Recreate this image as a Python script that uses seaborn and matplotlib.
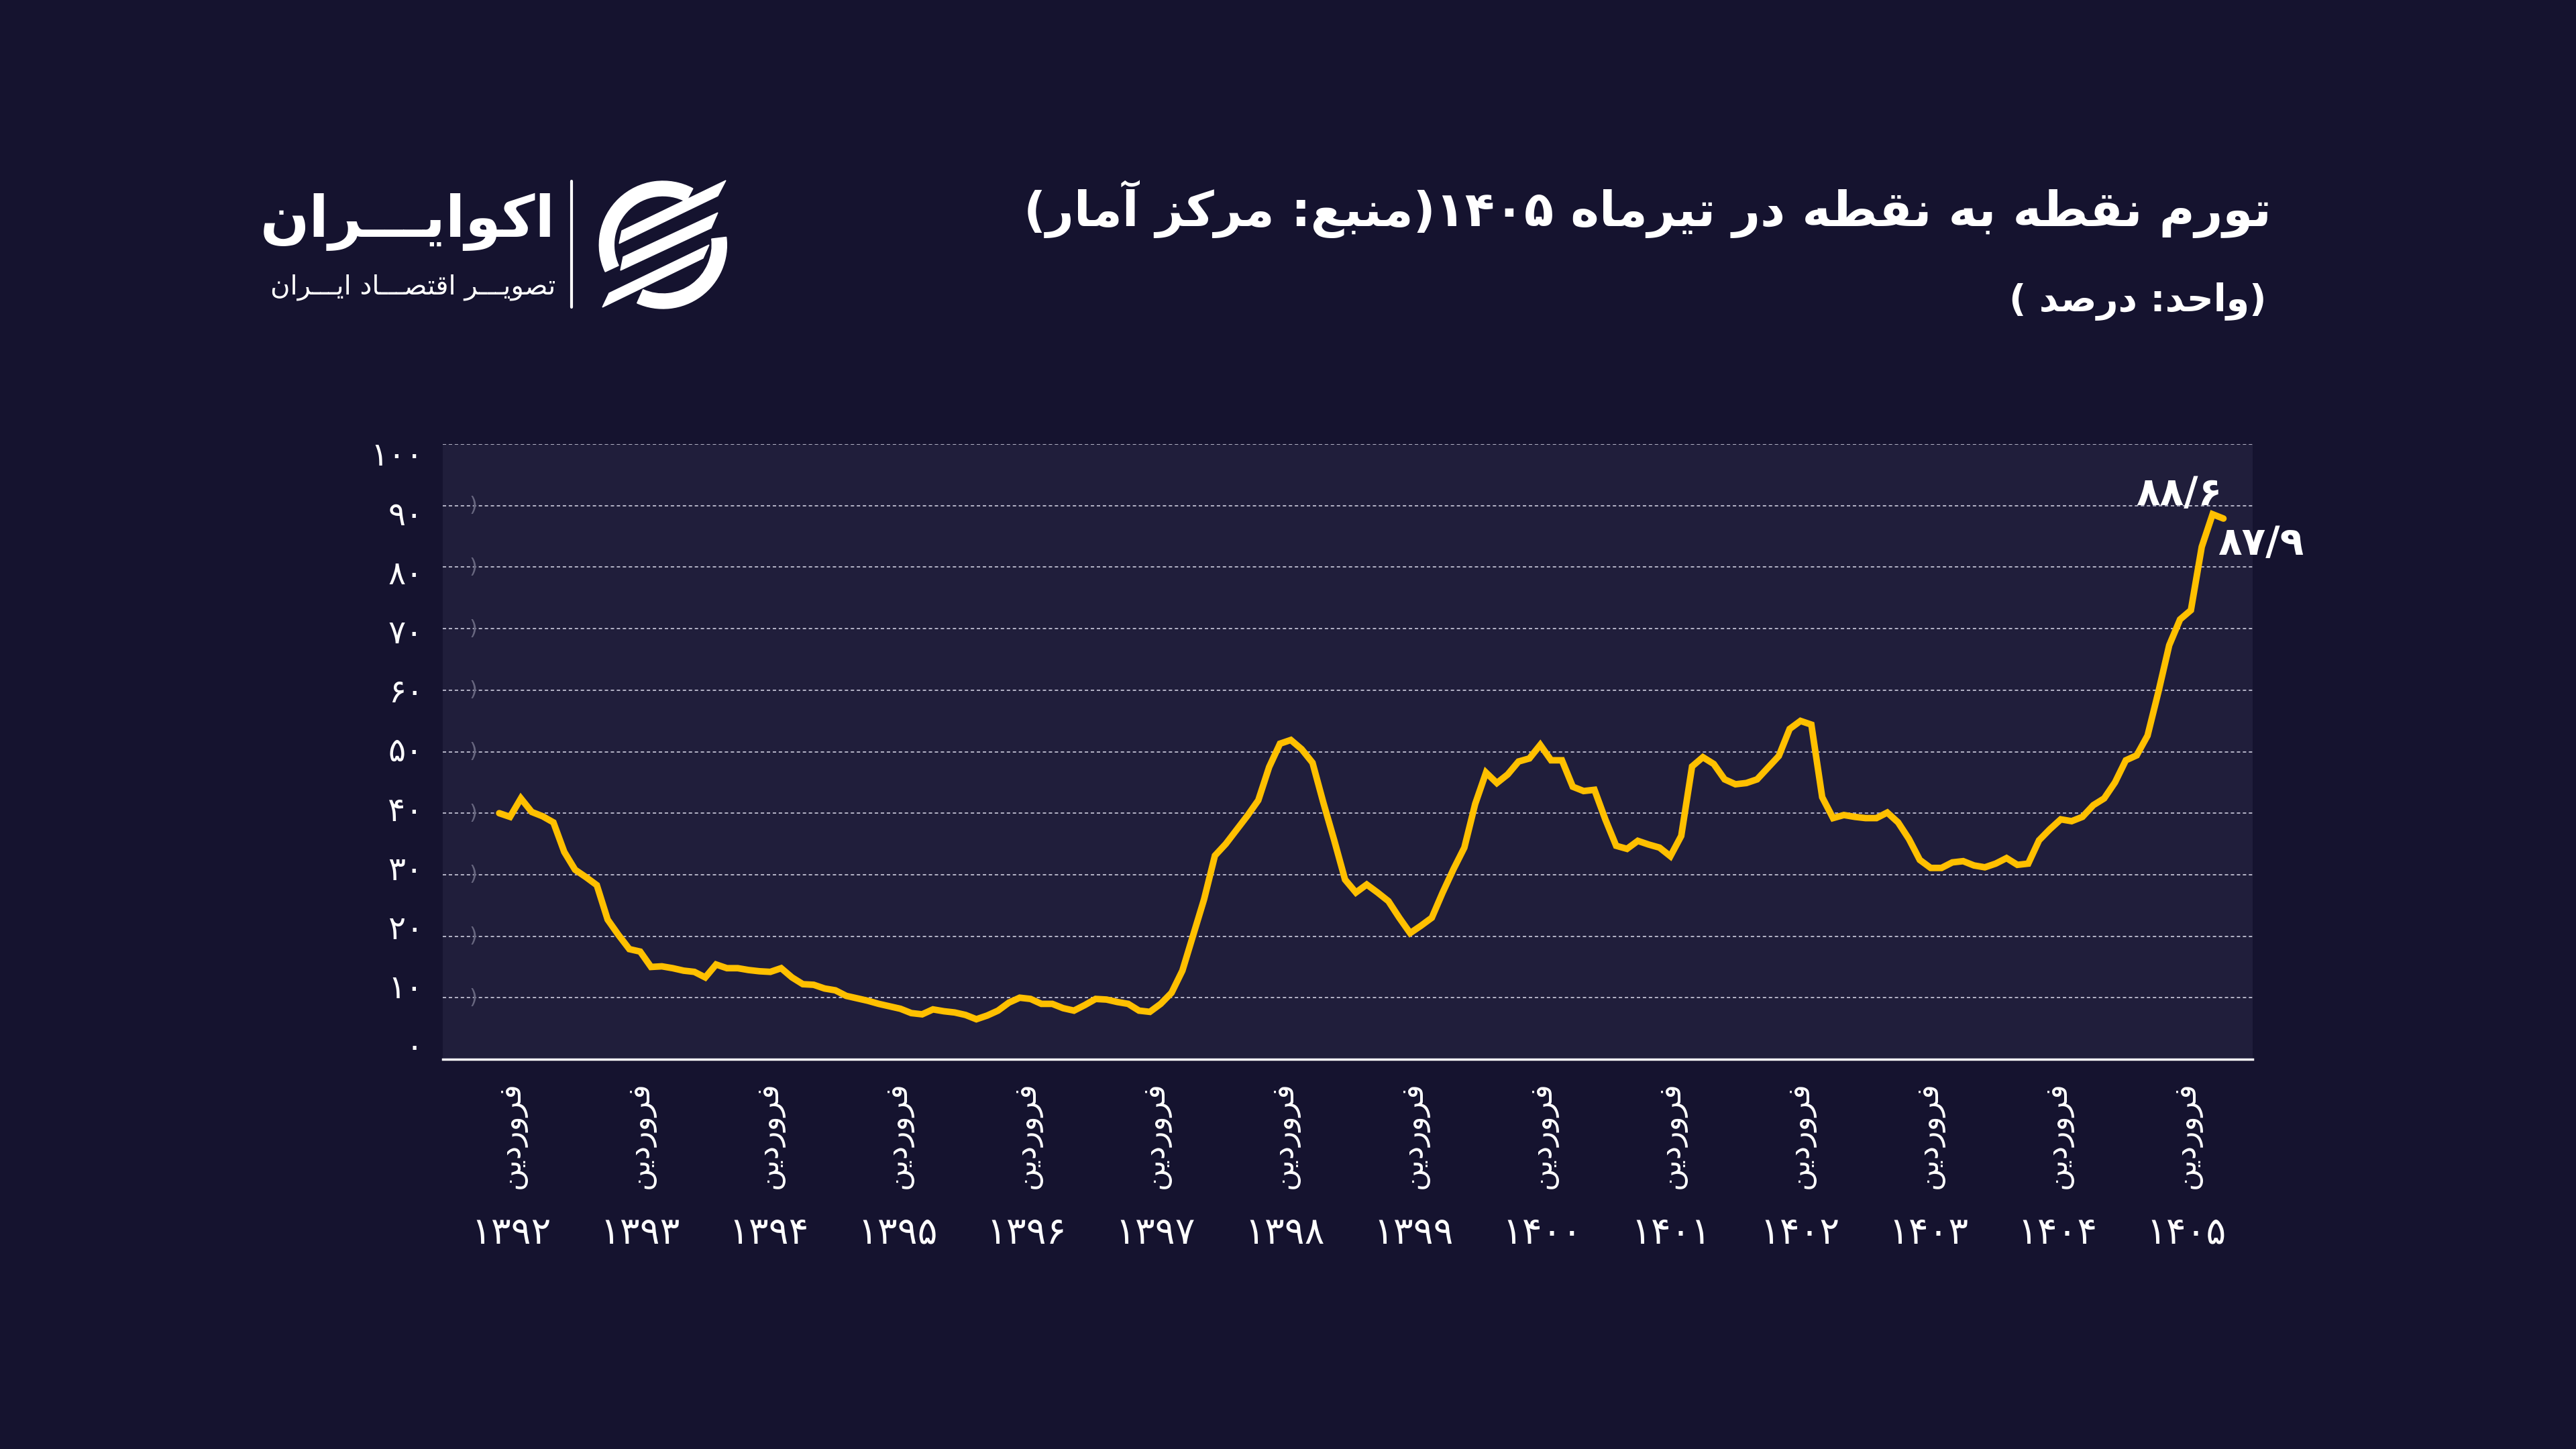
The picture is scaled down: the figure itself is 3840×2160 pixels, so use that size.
import re
import numpy as np
import matplotlib
matplotlib.use("Agg")
import matplotlib.pyplot as plt
import matplotlib.transforms as mtransforms
from matplotlib.lines import Line2D
from matplotlib.patches import Wedge, Polygon
import seaborn as sns

# colours of the source graphic
BG = '#15132f'
PANEL = '#201e3b'
GOLD = '#ffc000'

# point-to-point inflation, monthly, farvardin 1392 .. tir 1405 (percent)
inflation = [
    40.0, 39.4, 42.4, 40.2, 39.5, 38.5, 33.7, 30.8, 29.6, 28.3, 22.7, 20.2,
    17.9, 17.5, 15.0, 15.1, 14.8, 14.4, 14.2, 13.3, 15.4, 14.8, 14.8, 14.5,
    14.3, 14.2, 14.8, 13.3, 12.2, 12.1, 11.5, 11.2, 10.3, 9.9, 9.5, 9.0,
    8.6, 8.2, 7.5, 7.3, 8.1, 7.8, 7.6, 7.2, 6.5, 7.1, 7.9, 9.2,
    10.0, 9.8, 9.0, 9.0, 8.3, 7.9, 8.8, 9.8, 9.7, 9.3, 9.0, 7.9,
    7.7, 9.0, 10.8, 14.4, 20.2, 26.0, 33.1, 35.0, 37.3, 39.6, 42.1, 47.5,
    51.3, 51.9, 50.4, 48.2, 41.7, 35.6, 29.2, 27.1, 28.4, 27.1, 25.7, 23.0,
    20.5, 21.7, 23.0, 27.1, 30.9, 34.4, 41.5, 46.6, 44.9, 46.3, 48.4, 48.9,
    51.1, 48.6, 48.6, 44.3, 43.6, 43.8, 39.0, 34.7, 34.2, 35.5, 34.9, 34.4,
    33.0, 36.3, 47.6, 49.1, 48.0, 45.5, 44.7, 44.9, 45.5, 47.4, 49.3, 53.7,
    55.0, 54.4, 42.6, 39.2, 39.7, 39.4, 39.2, 39.2, 40.1, 38.5, 35.8, 32.4,
    31.1, 31.1, 32.0, 32.2, 31.5, 31.2, 31.8, 32.7, 31.6, 31.8, 35.6, 37.4,
    39.0, 38.7, 39.4, 41.3, 42.4, 45.0, 48.6, 49.4, 52.6, 59.7, 67.3, 71.5,
    73.0, 83.3, 88.6, 87.9,
]

year_labels = ['۱۳۹۲', '۱۳۹۳', '۱۳۹۴', '۱۳۹۵', '۱۳۹۶', '۱۳۹۷', '۱۳۹۸',
               '۱۳۹۹', '۱۴۰۰', '۱۴۰۱', '۱۴۰۲', '۱۴۰۳', '۱۴۰۴', '۱۴۰۵']
month_label = 'فروردین'
y_values = [0, 10, 20, 30, 40, 50, 60, 70, 80, 90, 100]
y_labels = ['۰', '۱۰', '۲۰', '۳۰', '۴۰', '۵۰', '۶۰', '۷۰', '۸۰', '۹۰', '۱۰۰']
peak_label = '۸۸/۶'
last_label = '۸۷/۹'

title_text = 'تورم نقطه به نقطه در تیرماه ۱۴۰۵(منبع: مرکز آمار)'
unit_text = '(واحد: درصد )'
brand_text = 'اکوایـــران'
tagline_text = 'تصویـــر اقتصـــاد ایـــران'

# matplotlib has no arabic shaping, so pick the contextual forms by hand
# (isolated, final, initial, medial)
FORMS = {
    'ا': ('\uFE8D', '\uFE8E', None, None),
    'آ': ('\uFE81', '\uFE82', None, None),
    'ب': ('\uFE8F', '\uFE90', '\uFE91', '\uFE92'),
    'ت': ('\uFE95', '\uFE96', '\uFE97', '\uFE98'),
    'ح': ('\uFEA1', '\uFEA2', '\uFEA3', '\uFEA4'),
    'د': ('\uFEA9', '\uFEAA', None, None),
    'ر': ('\uFEAD', '\uFEAE', None, None),
    'ز': ('\uFEAF', '\uFEB0', None, None),
    'ص': ('\uFEB9', '\uFEBA', '\uFEBB', '\uFEBC'),
    'ط': ('\uFEC1', '\uFEC2', '\uFEC3', '\uFEC4'),
    'ع': ('\uFEC9', '\uFECA', '\uFECB', '\uFECC'),
    'ف': ('\uFED1', '\uFED2', '\uFED3', '\uFED4'),
    'ق': ('\uFED5', '\uFED6', '\uFED7', '\uFED8'),
    'ک': ('\uFB8E', '\uFB8F', '\uFB90', '\uFB91'),
    'م': ('\uFEE1', '\uFEE2', '\uFEE3', '\uFEE4'),
    'ن': ('\uFEE5', '\uFEE6', '\uFEE7', '\uFEE8'),
    'ه': ('\uFEE9', '\uFEEA', '\uFEEB', '\uFEEC'),
    'و': ('\uFEED', '\uFEEE', None, None),
    'ی': ('\uFBFC', '\uFBFD', '\uFBFE', '\uFBFF'),
    'ـ': ('\u0640', '\u0640', '\u0640', '\u0640'),
}


def fa(text):
    """Shape persian text and put it in visual (left to right) order."""
    out = []
    for i, ch in enumerate(text):
        if ch not in FORMS:
            out.append(ch)
            continue
        prev = text[i - 1] if i > 0 else ''
        nxt = text[i + 1] if i + 1 < len(text) else ''
        join_prev = prev in FORMS and FORMS[prev][2] is not None
        join_next = nxt in FORMS and FORMS[ch][2] is not None
        iso, fin, ini, med = FORMS[ch]
        if join_prev and join_next:
            out.append(med)
        elif join_prev:
            out.append(fin)
        elif join_next:
            out.append(ini)
        else:
            out.append(iso)
    s = ''.join(out)[::-1]
    s = s.translate(str.maketrans('()', ')('))
    # digit runs keep left-to-right order
    return re.sub('[۰-۹0-9]+', lambda m: m.group()[::-1], s)


sns.set_theme(style='dark')
plt.rcParams['font.family'] = ['DejaVu Sans']

fig = plt.figure(figsize=(38.4, 21.6), dpi=100, facecolor=BG)
ax = fig.add_axes([0.1719, 0.2690, 0.7026, 0.4245])
ax.set_facecolor(PANEL)

months = np.arange(len(inflation))
sns.lineplot(x=months, y=inflation, ax=ax, color=GOLD, linewidth=7,
             solid_joinstyle='miter', solid_capstyle='round', zorder=5)

ax.set_xlim(-5.2, 161.7)
ax.set_ylim(0, 100)

# dashed guide lines
for v in y_values[1:]:
    ax.axhline(v, color='#cfcfe0', lw=1.4, ls=(0, (2.6, 2.0)), alpha=0.85, zorder=1)
    if v < 100:
        ax.text(-2.4, v, ')', color='#67667f', fontsize=22, ha='center',
                va='center', zorder=2)

# value labels sit on a slightly tighter scale than the grid in the original
label_pos = [1.8 + 0.962 * v for v in y_values]
ax.set_yticks(label_pos)
ax.set_yticklabels(y_labels, fontsize=35, color='white')
for lab in ax.get_yticklabels():
    lab.set_va('center')
ax.tick_params(axis='y', length=0, pad=21)

# month labels at every farvardin, as placed in the source graphic
tick_pos = np.linspace(1.1, 155.6, len(year_labels))
ax.set_xticks(tick_pos)
ax.set_xticklabels([fa(month_label)] * len(year_labels), rotation=90,
                   fontsize=33, color='white')
ax.tick_params(axis='x', length=0, pad=24)

trans = mtransforms.blended_transform_factory(ax.transData, ax.transAxes)
for pos, yr in zip(tick_pos, year_labels):
    ax.text(pos, -0.2835, yr, transform=trans, ha='center', va='center',
            fontsize=40, color='white')

ax.grid(False)
for side in ['left', 'right', 'top']:
    ax.spines[side].set_visible(False)
ax.spines['bottom'].set_color('white')
ax.spines['bottom'].set_linewidth(2.5)

# last two readings
ax.annotate(peak_label, xy=(months[-2], inflation[-2]), xytext=(-36, 22),
            textcoords='offset points', ha='center', va='center',
            fontsize=42, fontweight='bold', color='white')
ax.annotate(last_label, xy=(months[-1], inflation[-1]), xytext=(40, -27),
            textcoords='offset points', ha='center', va='center',
            fontsize=42, fontweight='bold', color='white')

# header
fig.text(0.8818, 0.8555, fa(title_text), ha='right', va='center',
         fontsize=52, fontweight='bold', color='white')
fig.text(0.8797, 0.7917, fa(unit_text), ha='right', va='center',
         fontsize=40, fontweight='bold', color='white')

# logo
fig.text(0.2156, 0.8468, fa(brand_text), ha='right', va='center',
         fontsize=62, fontweight='bold', color='white')
fig.text(0.2156, 0.8019, fa(tagline_text), ha='right', va='center',
         fontsize=29, color='white')
fig.add_artist(Line2D([852 / 3840] * 2, [1 - 270 / 2160, 1 - 458 / 2160],
                      color='white', lw=3))

icon = fig.add_axes([840 / 3840, 1 - 480 / 2160, 260 / 3840, 230 / 2160])
icon.set_xlim(840, 1100)
icon.set_ylim(-480, -250)
icon.axis('off')
cx, cy = 988.3, -365
icon.add_patch(Wedge((cx, cy), 95, 62, 205, width=22, color='white'))
icon.add_patch(Wedge((cx, cy), 95, 246, 367, width=22, color='white'))
stripes = [
    [(923, 363), (927, 344), (1082, 269), (1070, 292)],
    [(925, 403), (929, 383), (1070, 317), (1060, 340)],
    [(898, 458), (908, 437), (1057, 365), (1048, 385)],
]
for pts in stripes:
    icon.add_patch(Polygon([(x, -y) for x, y in pts], closed=True, color='white'))

fig.savefig('out.png', dpi=100, facecolor=BG)
